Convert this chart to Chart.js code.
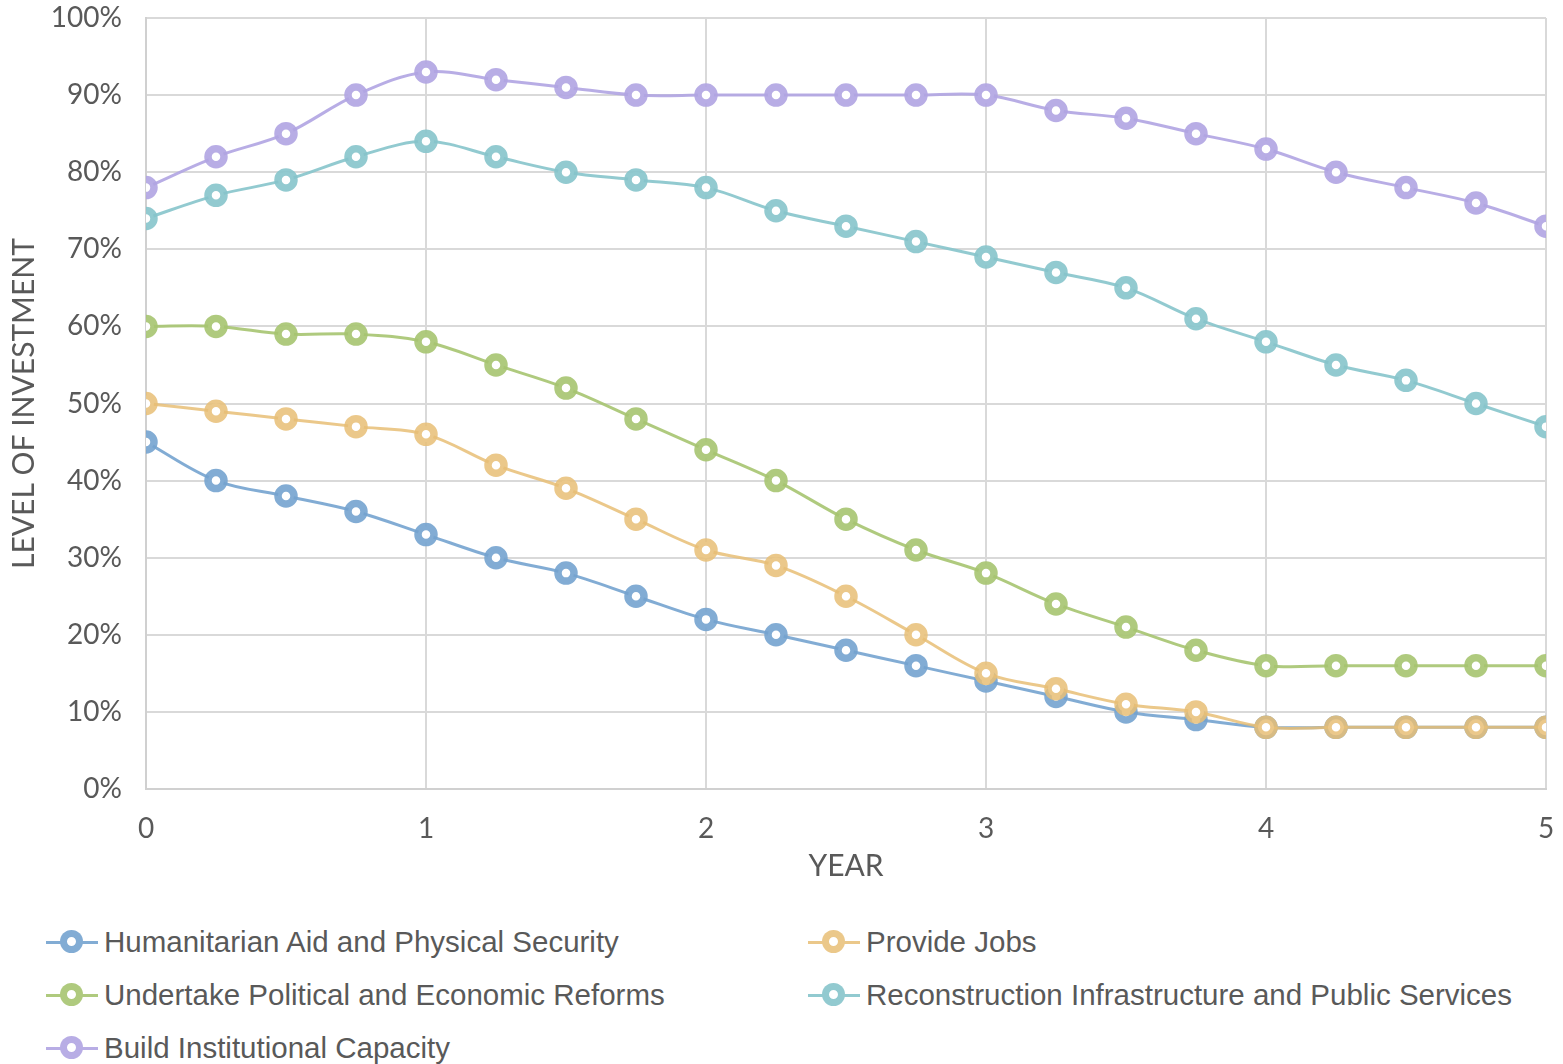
<!DOCTYPE html>
<html lang="en">
<head>
    <meta charset="UTF-8">
    <title>Level of Investment by Year</title>
    <script src="https://cdn.jsdelivr.net/npm/chart.js"></script>
    <style>
        body {
            margin: 0;
            background: #ffffff;
            width: 1563px;
            height: 1064px;
            position: relative;
            overflow: hidden;
        }
        .chart-box {
            position: absolute;
            left: 0;
            top: 0;
            width: 1563px;
            height: 900px;
        }
        .legend-item {
            position: absolute;
            height: 30px;
            display: flex;
            align-items: center;
            font-family: "Liberation Sans", Arial, sans-serif;
            font-size: 29.5px;
            color: #595959;
            white-space: nowrap;
        }
        .legend-mark {
            position: relative;
            width: 52px;
            height: 30px;
            margin-right: 6px;
        }
        .legend-mark .ln {
            position: absolute;
            left: 0;
            top: 14px;
            width: 52px;
            height: 3px;
        }
        .legend-mark .dot {
            position: absolute;
            left: 14px;
            top: 3px;
            width: 9px;
            height: 9px;
            border-radius: 50%;
            background: #fff;
            border-style: solid;
            border-width: 7px;
        }
    </style>
</head>
<body>

    <div class="chart-box">
        <canvas id="lineChart" width="1563" height="900"></canvas>
    </div>
    <div id="legend"></div>

    <script>
        const years = [0, 0.25, 0.5, 0.75, 1, 1.25, 1.5, 1.75, 2, 2.25, 2.5, 2.75, 3, 3.25, 3.5, 3.75, 4, 4.25, 4.5, 4.75, 5];

        const seriesNames = [
            'Humanitarian Aid and Physical Security',
            'Provide Jobs',
            'Undertake Political and Economic Reforms',
            'Reconstruction Infrastructure and Public Services',
            'Build Institutional Capacity'
        ];

        const humanitarian = [45, 40, 38, 36, 33, 30, 28, 25, 22, 20, 18, 16, 14, 12, 10, 9, 8, 8, 8, 8, 8];
        const jobs = [50, 49, 48, 47, 46, 42, 39, 35, 31, 29, 25, 20, 15, 13, 11, 10, 8, 8, 8, 8, 8];
        const reforms = [60, 60, 59, 59, 58, 55, 52, 48, 44, 40, 35, 31, 28, 24, 21, 18, 16, 16, 16, 16, 16];
        const reconstruction = [74, 77, 79, 82, 84, 82, 80, 79, 78, 75, 73, 71, 69, 67, 65, 61, 58, 55, 53, 50, 47];
        const capacity = [78, 82, 85, 90, 93, 92, 91, 90, 90, 90, 90, 90, 90, 88, 87, 85, 83, 80, 78, 76, 73];

        const seriesValues = [humanitarian, jobs, reforms, reconstruction, capacity];
        const seriesColors = [
            'rgba(116, 163, 207, 0.9)',
            'rgba(232, 190, 118, 0.85)',
            'rgba(166, 196, 112, 0.9)',
            'rgba(134, 196, 203, 0.9)',
            'rgba(176, 164, 226, 0.9)'
        ];

        // legend positions (two columns, as in the original)
        const legendSlots = [
            { left: 46, top: 927 },
            { left: 808, top: 927 },
            { left: 46, top: 980 },
            { left: 808, top: 980 },
            { left: 46, top: 1033 }
        ];

        const tickFont = { family: 'Lato', size: 28, weight: '400' };
        const titleFont = { family: 'Lato', size: 30, weight: '400' };

        // later series drawn on top, like the original
        const datasets = seriesNames.map((name, i) => ({
            label: name,
            data: years.map((x, j) => ({ x: x, y: seriesValues[i][j] })),
            order: seriesNames.length - i,
            borderColor: seriesColors[i],
            backgroundColor: '#ffffff',
            pointBorderColor: seriesColors[i],
            pointBackgroundColor: '#ffffff',
            borderWidth: 3,
            pointRadius: 8,
            pointBorderWidth: 7.5,
            pointHoverRadius: 8,
            tension: 0.35,
            fill: false
        }));

        const ctx = document.getElementById('lineChart').getContext('2d');
        new Chart(ctx, {
            type: 'line',
            data: { datasets: datasets },
            options: {
                responsive: false,
                animation: false,
                layout: { padding: { top: 18, right: 17, left: 0, bottom: 0 } },
                plugins: {
                    legend: { display: false },
                    tooltip: { enabled: false }
                },
                scales: {
                    x: {
                        type: 'linear',
                        min: 0,
                        max: 5,
                        ticks: {
                            stepSize: 1,
                            color: '#595959',
                            font: tickFont,
                            padding: 23
                        },
                        grid: { color: '#d9d9d9', lineWidth: 2, drawTicks: false },
                        border: { color: '#d0d0d0', width: 2 },
                        title: {
                            display: true,
                            text: 'YEAR',
                            color: '#595959',
                            font: titleFont,
                            padding: { top: 0, bottom: 16 }
                        },
                        afterFit: function (scale) {
                            scale.height = 111;
                            scale.paddingLeft = 0;
                            scale.paddingRight = 0;
                        }
                    },
                    y: {
                        min: 0,
                        max: 100,
                        ticks: {
                            stepSize: 10,
                            color: '#595959',
                            font: tickFont,
                            padding: 24,
                            callback: v => v + '%'
                        },
                        grid: { color: '#d9d9d9', lineWidth: 2, drawTicks: false },
                        border: { color: '#d0d0d0', width: 2 },
                        title: {
                            display: true,
                            text: 'LEVEL OF INVESTMENT',
                            color: '#595959',
                            font: titleFont,
                            padding: { top: 6, bottom: 0 }
                        },
                        afterFit: function (scale) {
                            scale.width = 146;
                            scale.paddingTop = 0;
                            scale.paddingBottom = 0;
                        }
                    }
                }
            }
        });

        // HTML legend built from the series arrays
        const legend = document.getElementById('legend');
        seriesNames.forEach((name, i) => {
            const item = document.createElement('div');
            item.className = 'legend-item';
            item.style.left = legendSlots[i].left + 'px';
            item.style.top = legendSlots[i].top + 'px';
            item.innerHTML = '<div class="legend-mark"><div class="ln" style="background:' + seriesColors[i] +
                '"></div><div class="dot" style="border-color:' + seriesColors[i] + '"></div></div>' +
                '<span>' + name + '</span>';
            legend.appendChild(item);
        });
    </script>

</body>
</html>
